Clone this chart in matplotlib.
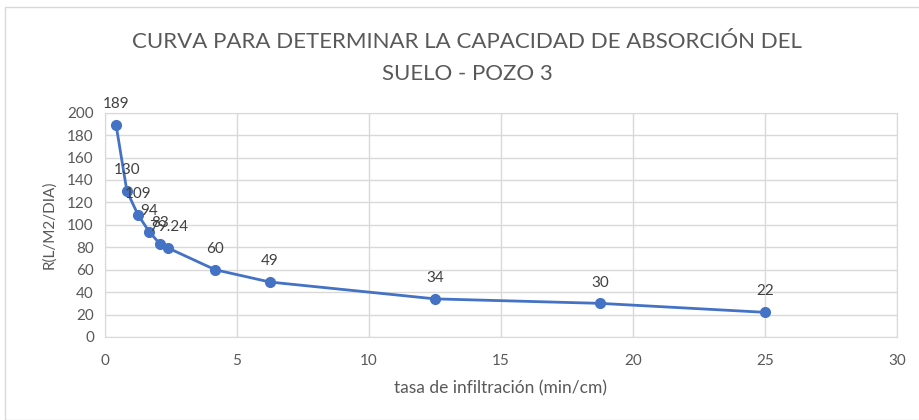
import matplotlib.pyplot as plt
from matplotlib.patches import Rectangle

# datos
tasa = [0.42, 0.83, 1.25, 1.67, 2.08, 2.4, 4.17, 6.25, 12.5, 18.75, 25]
r_vals = [189, 130, 109, 94, 83, 79.24, 60, 49, 34, 30, 22]
etiquetas = ['189', '130', '109', '94', '83', '79.24', '60', '49', '34', '30', '22']

plt.rcParams['font.family'] = ['Lato', 'DejaVu Sans']
gris = '#595959'

fig = plt.figure(figsize=(9.19, 4.2), dpi=100)
ax = fig.add_axes([105 / 919, 1 - 337 / 420, 792 / 919, 224.3 / 420])

# borde del area del grafico
fig.patches.append(Rectangle((5 / 919, 0), 1, 1 - 7 / 420, transform=fig.transFigure,
                             fill=False, edgecolor='#d9d9d9', linewidth=1))

ax.plot(tasa, r_vals, color='#4472C4', linewidth=2, marker='o', markersize=7, zorder=3)
for x, y, t in zip(tasa, r_vals, etiquetas):
    ax.annotate(t, (x, y), xytext=(0, 15), textcoords='offset points',
                ha='center', va='center', fontsize=11, color='#404040')

ax.set_xlim(0, 30)
ax.set_ylim(0, 200)
ax.set_xticks(range(0, 31, 5))
ax.set_yticks(range(0, 201, 20))
ax.grid(True, color='#d9d9d9', linewidth=1)
ax.set_axisbelow(True)
for s in ax.spines.values():
    s.set_color('#d9d9d9')
ax.tick_params(length=0, colors=gris, labelsize=11, pad=12)
ax.tick_params(axis='y', pad=8)

ax.set_xlabel('tasa de infiltración (min/cm)', color=gris, fontsize=12.5, labelpad=9)
ax.set_ylabel('R(L/M2/DIA)', color=gris, fontsize=11, labelpad=8)

fig.text(467 / 919, 1 - 42 / 420, 'CURVA PARA DETERMINAR LA CAPACIDAD DE ABSORCIÓN DEL',
         ha='center', va='center', fontsize=16, color=gris)
fig.text(467 / 919, 1 - 74 / 420, 'SUELO - POZO 3',
         ha='center', va='center', fontsize=16, color=gris)

fig.savefig('out.png', dpi=100)
